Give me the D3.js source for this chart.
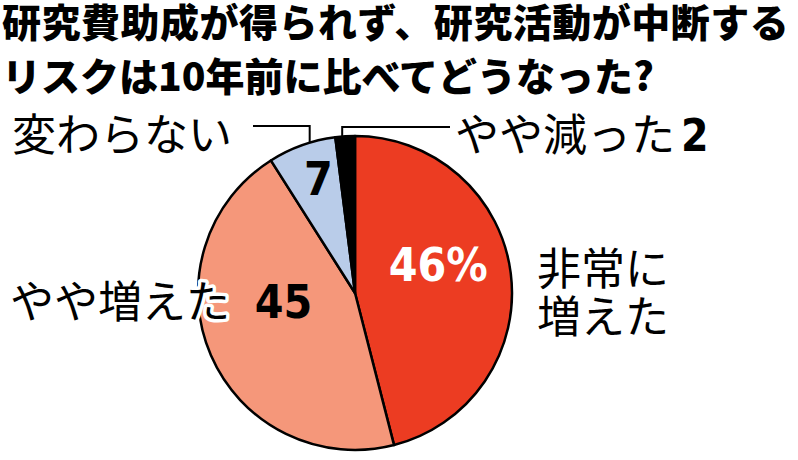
<!DOCTYPE html>
<html>
<head>
<meta charset="utf-8">
<script src="https://cdn.jsdelivr.net/npm/d3@7"></script>
<style>
  html, body { margin: 0; padding: 0; background: #fff; }
  svg { display: block; }
</style>
</head>
<body>
<svg id="chart" width="798" height="460"></svg>
<script>
// data
const titleLines = ["研究費助成が得られず、研究活動が中断する", "リスクは10年前に比べてどうなった?"];
const categories = ["非常に増えた", "やや増えた", "変わらない", "やや減った"];
const values = [46, 45, 7, 2];
const valueLabels = ["46%", "45", "7", "2"];
const colors = ["#ec3c22", "#f5977a", "#b9cce9", "#000000"];

var svg = d3.select("#chart"),
    width = +svg.attr("width"),
    height = +svg.attr("height");

var cx = 355, cy = 293, radius = 157;
var jpFont = "'Noto Sans CJK JP', 'Noto Sans', sans-serif";
var numFont = "'DejaVu Sans Condensed', 'Liberation Sans Narrow', sans-serif";

// title
svg.append("g").selectAll("text")
  .data(titleLines)
  .enter()
  .append("text")
  .attr("x", 2)
  .attr("y", (d, i) => 37 + i * 54)
  .style("font-family", jpFont)
  .style("font-weight", 900)
  .style("font-size", "39px")
  .style("letter-spacing", (d, i) => i === 0 ? "0.5px" : "0px")
  .text(d => d);

let pie = d3.pie().sort(null).value(d => d);
let arcs = pie(values);
let arc = d3.arc().innerRadius(0).outerRadius(radius);

let g = svg.append("g").attr("transform", "translate(" + cx + "," + cy + ")");

g.selectAll("path")
  .data(arcs)
  .enter()
  .append("path")
  .attr("d", arc)
  .attr("fill", (d, i) => colors[i])
  .style("stroke", "#000")
  .style("stroke-width", "2.5")
  .style("stroke-linejoin", "round");

// point at a fraction of the slice's angle, at distance r from the centre
function rimPoint(d, frac, r) {
  var a = d.startAngle + (d.endAngle - d.startAngle) * frac;
  return [r * Math.sin(a), -r * Math.cos(a)];
}

// value labels inside slices
var valuePos = [
  {frac: 0.43, r: 88, fill: "#fff"},
  {frac: 0.60, r: 72, fill: "#000"},
  {frac: 0.58, r: 120, fill: "#000"}
];
valuePos.forEach(function (p, i) {
  var pt = rimPoint(arcs[i], p.frac, p.r);
  g.append("text")
    .attr("x", pt[0])
    .attr("y", pt[1] + 16)
    .attr("text-anchor", "middle")
    .style("font-family", numFont)
    .style("font-weight", "bold")
    .style("font-size", "46px")
    .style("fill", p.fill)
    .text(valueLabels[i]);
});

// leader lines
let line = d3.line();
var pBlue = rimPoint(arcs[2], 0.62, radius);
var pBlack = rimPoint(arcs[3], 0.35, radius);
g.append("path")
  .attr("d", line([[253 - cx, 126 - cy], [pBlue[0], 126 - cy], pBlue]))
  .attr("fill", "none").style("stroke", "#000").style("stroke-width", "2");
g.append("path")
  .attr("d", line([[450 - cx, 127 - cy], [pBlack[0], 127 - cy], pBlack]))
  .attr("fill", "none").style("stroke", "#000").style("stroke-width", "2");

// category labels
function catLabel(x, y, txt, halo) {
  var t = svg.append("text")
    .attr("x", x)
    .attr("y", y)
    .style("font-family", jpFont)
    .style("font-weight", 400)
    .style("font-size", "44px")
    .style("fill", "#000");
  if (txt !== null) t.text(txt);
  if (halo) {
    t.style("stroke", "#fff")
     .style("stroke-width", "7px")
     .style("stroke-linejoin", "round")
     .style("paint-order", "stroke");
  }
  return t;
}

var big = catLabel(537, 285, null);
big.append("tspan").attr("x", 537).attr("y", 285).text(categories[0].slice(0, 3));
big.append("tspan").attr("x", 537).attr("y", 333).text(categories[0].slice(3));
catLabel(10, 318, categories[1], true);
catLabel(12, 151, categories[2]);
var dec = catLabel(455, 151, categories[3]);
dec.append("tspan")
  .attr("dx", 6)
  .style("font-family", numFont)
  .style("font-weight", "bold")
  .text(valueLabels[3]);
</script>
</body>
</html>
